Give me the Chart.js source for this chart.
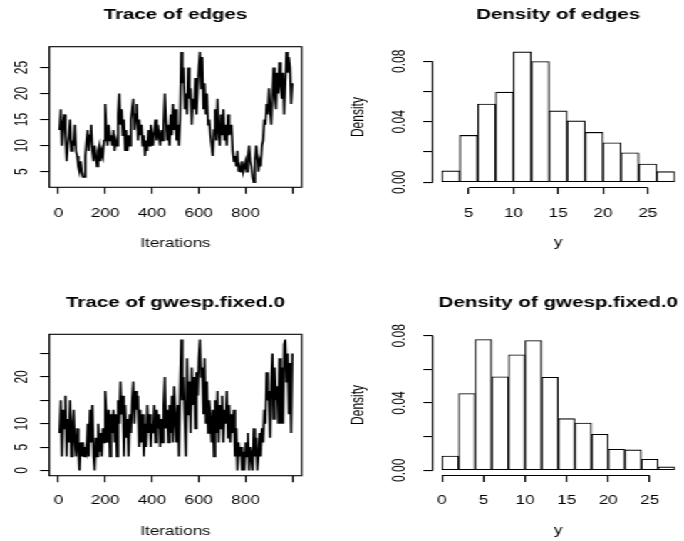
<!DOCTYPE html>
<html><head><meta charset="utf-8">
<script src="https://cdn.jsdelivr.net/npm/chart.js@4/dist/chart.umd.min.js"></script>
<style>
html,body{margin:0;padding:0;background:#fff;width:684px;height:541px;overflow:hidden}
#wrap{position:absolute;left:0;top:0;width:480px;height:541px;transform:scale(1.425,1);transform-origin:0 0}
canvas{position:absolute}
</style></head><body>
<div id="wrap">
<canvas id="c1" width="240" height="270" style="left:0px;top:0px"></canvas>
<canvas id="c2" width="240" height="270" style="left:240px;top:0px"></canvas>
<canvas id="c3" width="240" height="271" style="left:0px;top:270px"></canvas>
<canvas id="c4" width="240" height="271" style="left:240px;top:270px"></canvas>
</div>
<script>
// ---------- data ----------
const iterStep = 5;
const traceEdges = [13,17,10,14,16,12,7,10,12,15,
 9,11,10,14,9,8,6,5,7,5,
 4,4,8,11,13,9,12,14,9,7,
 10,8,6,9,10,7,9,8,11,18,
 13,10,14,11,12,10,13,9,11,10,
 16,20,14,17,12,15,9,13,9,12,
 10,15,17,19,13,16,18,11,15,12,
 14,10,12,8,11,9,13,10,14,12,
 10,13,15,11,14,12,10,13,11,14,
 20,15,11,14,10,16,12,18,13,17,
 11,14,10,15,28,22,25,17,20,16,
 25,19,21,14,19,17,23,16,21,25,
 28,21,27,17,22,16,20,14,15,12,
 10,8,13,17,11,19,13,10,16,12,
 17,11,14,10,16,12,13,14,9,7,
 8,6,9,5,6,5,7,5,6,7,
 5,8,10,7,6,4,3,7,10,8,
 5,7,6,10,11,15,14,18,16,21,
 17,14,20,25,19,17,24,20,26,22,
 19,24,16,22,28,24,27,25,18,22];
const traceGwesp = [8,15,3,13,9,16,3,11,6,15,
 3,9,13,6,3,9,5,0,6,3,
 6,3,5,4,10,3,13,6,14,3,
 0,7,3,10,4,8,3,9,6,17,
 12,6,13,3,12,8,13,6,12,3,
 15,10,19,12,16,3,14,7,11,3,
 12,8,15,19,10,17,13,16,5,13,
 6,12,3,10,5,14,8,12,5,10,
 8,14,6,13,9,12,5,11,6,14,
 20,9,13,6,14,8,16,6,18,11,
 6,14,3,17,28,15,20,11,3,24,
 12,19,8,22,14,20,9,21,16,24,
 28,20,22,12,24,10,19,8,15,11,
 6,13,3,15,8,17,6,14,9,16,
 6,13,10,17,7,14,6,12,8,13,
 3,9,0,6,3,5,0,4,0,6,
 3,8,0,5,3,0,9,3,7,0,
 3,8,3,9,6,13,10,21,15,17,
 7,19,25,11,22,15,18,10,24,10,
 22,10,27,28,19,25,12,23,8,25];
const traceXTicks = [0,200,400,600,800,1000];
const traceXLabels = ['0','200','400','600','800',''];
const edgesYTicks = [5,10,15,20,25];
const edgesYLabels = ['5','10','15','20','25'];
const gwespYTicks = [0,5,10,15,20,25];
const gwespYLabels = ['0','5','10','','20',''];
const edgesBins = [2,4,6,8,10,12,14,16,18,20,22,24,26,28];
const edgesDensity = [0.0075,0.031,0.0517,0.0596,0.0862,0.0798,0.0472,0.0406,0.033,0.0261,0.0195,0.0121,0.007];
const gwespBins = [0,2,4,6,8,10,12,14,16,18,20,22,24,26,28];
const gwespDensity = [0.0085,0.0457,0.0778,0.0556,0.0687,0.0772,0.0553,0.0307,0.0281,0.0214,0.0125,0.0121,0.0065,0.002];
const densYTicks = [0,0.02,0.04,0.06,0.08];
const densYLabels = ['0.00','','0.04','','0.08'];
const edgesHistXTicks = [5,10,15,20,25];
const edgesHistXLabels = ['5','10','15','20','25'];
const gwespHistXTicks = [0,5,10,15,20,25];
const gwespHistXLabels = ['0','5','10','15','20','25'];

// ---------- setup ----------
const FAMILY = '"Liberation Sans", Arial, Helvetica, sans-serif';
Chart.defaults.font.family = FAMILY;
Chart.defaults.color = '#000';
const TICKLEN = 6.5;
const mctx = document.createElement('canvas').getContext('2d');
function widest(labels){ mctx.font = '12px ' + FAMILY; return Math.max(...labels.map(l => mctx.measureText(l).width)); }

function axis(o){
  const vertical = o.position === 'left';
  let pad = o.tickPad;
  if (vertical) pad = o.labelDist - TICKLEN - widest(o.labels) / 2;
  return {
    type:'linear', position:o.position, min:o.min, max:o.max, offset:false,
    afterBuildTicks: s => { s.ticks = o.ticks.map(v => ({value:v})); },
    afterFit: s => { if (vertical) s.width = o.size; else s.height = o.size; },
    grid:{display:true, drawOnChartArea:false, drawTicks:true, tickLength:TICKLEN, color:'#000', lineWidth:1.1, offset:false},
    border:{display:false},
    ticks:{autoSkip:false, padding:pad, color:'#000', font:{size:12},
      minRotation: vertical ? 90 : 0, maxRotation: vertical ? 90 : 0,
      crossAlign: vertical ? 'center' : 'near',
      callback:(v,i) => o.labels[i]},
    title: o.title ? {display:true, text:o.title, color:'#000', font:{size:12}, padding:o.titlePad} : {display:false}
  };
}

const rAxes = {
  id:'rAxes',
  afterDraw(chart, args, opts){
    const ctx = chart.ctx, a = chart.chartArea;
    ctx.save(); ctx.strokeStyle = '#000'; ctx.lineWidth = 1.1;
    if (opts.box) {
      ctx.strokeRect(a.left, a.top, a.right - a.left, a.bottom - a.top);
    } else {
      const xs = chart.scales.x, ys = chart.scales.y;
      const xt = xs.ticks, yt = ys.ticks;
      ctx.beginPath();
      ctx.moveTo(xs.getPixelForValue(xt[0].value), a.bottom);
      ctx.lineTo(xs.getPixelForValue(xt[xt.length-1].value), a.bottom);
      ctx.moveTo(a.left, ys.getPixelForValue(yt[0].value));
      ctx.lineTo(a.left, ys.getPixelForValue(yt[yt.length-1].value));
      ctx.stroke();
    }
    ctx.restore();
  }
};

function titleOpt(text, top, bottom){
  return {display:true, text, color:'#000', fullSize:false, font:{size:14.4, weight:'bold'}, padding:{top, bottom}};
}

function traceChart(id, values, yMin, yMax, yTicks, yLabels, ttl, tTop, tBot, xSize, xTickPad, xTitlePad){
  const pts = values.map((v,i) => ({x:(i+1)*iterStep, y:v}));
  new Chart(document.getElementById(id), {
    type:'line',
    data:{datasets:[{data:pts, borderColor:'#000', borderWidth:1.6, pointRadius:0, tension:0, fill:false}]},
    options:{
      responsive:false, animation:false, events:[],
      layout:{padding:{left:0, right:28.3, top:0, bottom:0}},
      plugins:{legend:{display:false}, tooltip:{enabled:false}, title:titleOpt(ttl, tTop, tBot), rAxes:{box:true}},
      scales:{
        x: axis({position:'bottom', min:-38.96, max:1039.96, ticks:traceXTicks, labels:traceXLabels, size:xSize, tickPad:xTickPad, title:'Iterations', titlePad:{top:0, bottom:xTitlePad}}),
        y: axis({position:'left', min:yMin, max:yMax, ticks:yTicks, labels:yLabels, size:34.6, labelDist:19.4})
      }
    },
    plugins:[rAxes]
  });
}

function histChart(id, bins, dens, xMin, xMax, yMax, xTicks, xLabels, ttl, tTop, tBot, xSize, xTickPad, xTitlePad, ySize){
  const pts = dens.map((d,i) => ({x:(bins[i]+bins[i+1])/2, y:d}));
  new Chart(document.getElementById(id), {
    type:'bar',
    data:{datasets:[{data:pts, backgroundColor:'#fff', borderColor:'#000', borderWidth:1.1, borderSkipped:false, barPercentage:1, categoryPercentage:1}]},
    options:{
      responsive:false, animation:false, events:[],
      layout:{padding:{left:0, right:0, top:0, bottom:0}},
      plugins:{legend:{display:false}, tooltip:{enabled:false}, title:titleOpt(ttl, tTop, tBot), rAxes:{box:false}},
      scales:{
        x: axis({position:'bottom', min:xMin, max:xMax, ticks:xTicks, labels:xLabels, size:xSize, tickPad:xTickPad, title:'y', titlePad:{top:0, bottom:xTitlePad}}),
        y: axis({position:'left', min:-yMax*0.04/1.04, max:yMax, ticks:densYTicks, labels:densYLabels, size:ySize, labelDist:22.6, title:'Density', titlePad:{top:4.5, bottom:0}})
      }
    },
    plugins:[rAxes]
  });
}

traceChart('c1', traceEdges, 2, 29, edgesYTicks, edgesYLabels, 'Trace of edges', 6.36, 23.06, 82.7, 12.3, 19.5);
histChart('c2', edgesBins, edgesDensity, 0.96, 29.04, 0.08965, edgesHistXTicks, edgesHistXLabels, 'Density of edges', 6.36, 23.06, 82.5, 12.3, 20.2, 63.5);
traceChart('c3', traceGwesp, -1.12, 29.12, gwespYTicks, gwespYLabels, 'Trace of gwesp.fixed.0', 24.66, 22.36, 65.3, 11.6, 2.1);
histChart('c4', gwespBins, gwespDensity, -1.12, 29.12, 0.08091, gwespHistXTicks, gwespHistXLabels, 'Density of gwesp.fixed.0', 24.66, 22.36, 65.5, 11.8, 2.9, 63.6);
</script>
</body></html>
